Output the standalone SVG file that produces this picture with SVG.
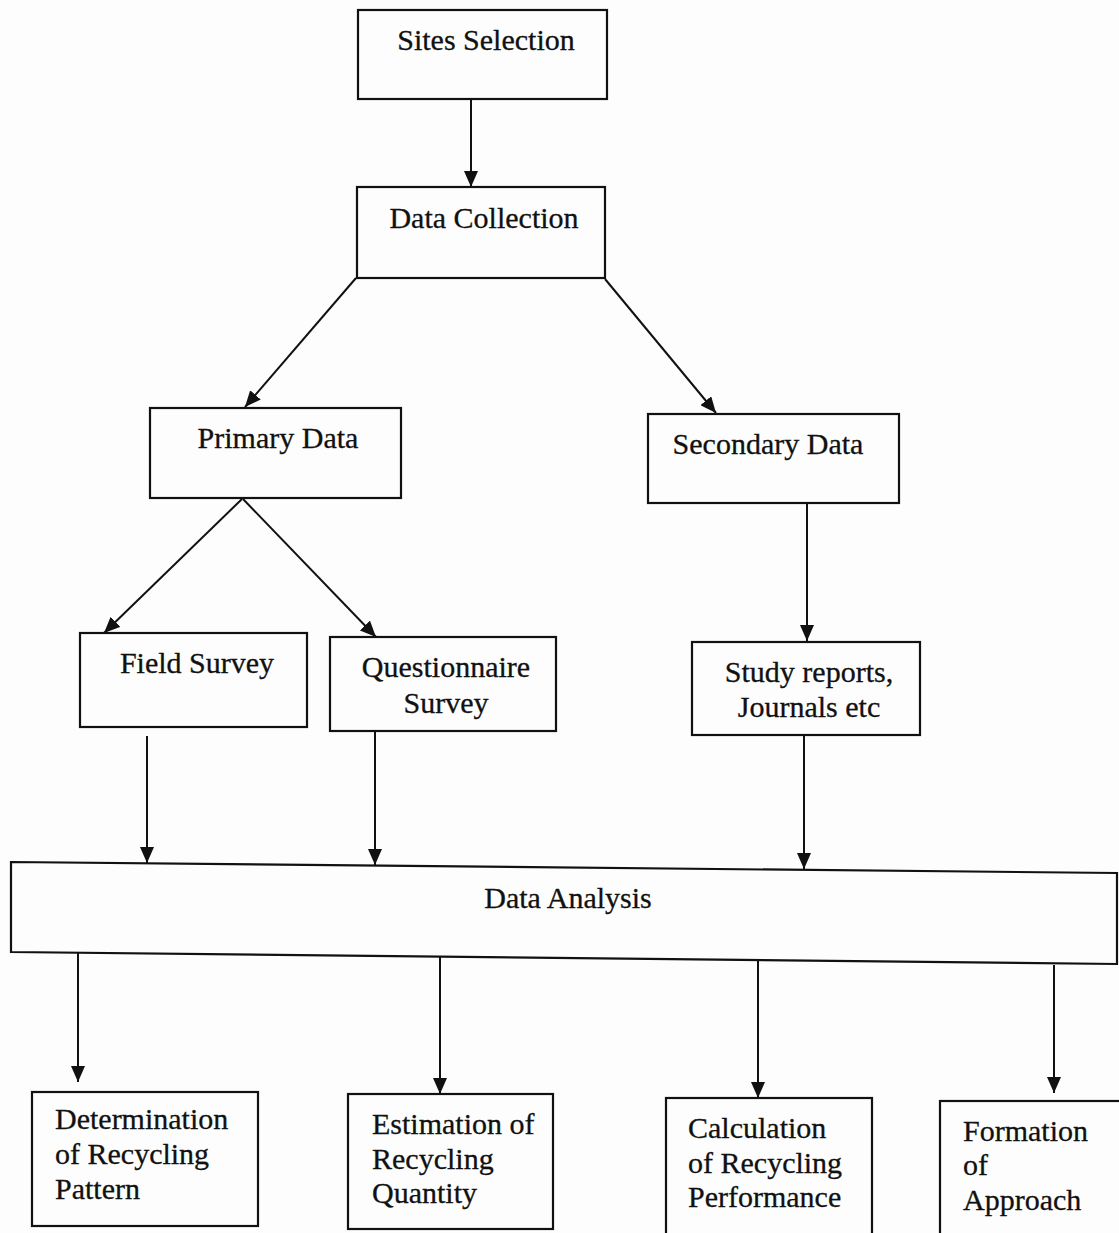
<svg xmlns="http://www.w3.org/2000/svg" width="1119" height="1233" viewBox="0 0 1119 1233">
  <style>
    .box { fill: none; stroke: #111; stroke-width: 2.2; }
    .lbl { font-family: "Liberation Serif", "Times New Roman", serif; font-size: 30px; fill: #111; stroke: #111; stroke-width: 0.3; }
    .c { text-anchor: middle; }
    .edge { stroke: #111; stroke-width: 2; fill: none; marker-end: url(#arrow); }
  </style>
  <defs>
    <marker id="arrow" viewBox="0 0 16 14" refX="16" refY="7" markerWidth="16" markerHeight="14" markerUnits="userSpaceOnUse" orient="auto">
      <path d="M0,0 L16,7 L0,14 Z" fill="#111"/>
    </marker>
  </defs>
  <rect width="1119" height="1233" fill="#fdfdfd"/>

  <g id="connectors">
    <line class="edge" x1="471" y1="99" x2="471" y2="187"/>
    <line class="edge" x1="356" y1="278" x2="245" y2="407"/>
    <line class="edge" x1="605" y1="279" x2="716" y2="413"/>
    <line class="edge" x1="242" y1="499" x2="104" y2="633"/>
    <line class="edge" x1="243" y1="499" x2="376" y2="637"/>
    <line class="edge" x1="807" y1="503" x2="807" y2="641"/>
    <line class="edge" x1="147" y1="736" x2="147" y2="863"/>
    <line class="edge" x1="375" y1="731" x2="375" y2="865"/>
    <line class="edge" x1="804" y1="735" x2="804" y2="869"/>
    <line class="edge" x1="78" y1="953" x2="78" y2="1082"/>
    <line class="edge" x1="440" y1="957" x2="440" y2="1094"/>
    <line class="edge" x1="758" y1="961" x2="758" y2="1098"/>
    <line class="edge" x1="1054" y1="965" x2="1054" y2="1093"/>
  </g>

  <g id="sites-selection">
    <rect class="box" x="358" y="10" width="249" height="89"/>
    <text class="lbl c" x="486" y="50">Sites Selection</text>
  </g>
  <g id="data-collection">
    <rect class="box" x="357" y="187" width="248" height="91"/>
    <text class="lbl c" x="484" y="228">Data Collection</text>
  </g>
  <g id="primary-data">
    <rect class="box" x="150" y="408" width="251" height="90"/>
    <text class="lbl c" x="278" y="448">Primary Data</text>
  </g>
  <g id="secondary-data">
    <rect class="box" x="648" y="414" width="251" height="89"/>
    <text class="lbl c" x="768" y="454">Secondary Data</text>
  </g>
  <g id="field-survey">
    <rect class="box" x="80" y="633" width="227" height="94"/>
    <text class="lbl c" x="197" y="673">Field Survey</text>
  </g>
  <g id="questionnaire-survey">
    <rect class="box" x="330" y="637" width="226" height="94"/>
    <text class="lbl c" x="446" y="677">Questionnaire</text>
    <text class="lbl c" x="446" y="713">Survey</text>
  </g>
  <g id="study-reports">
    <rect class="box" x="692" y="642" width="228" height="93"/>
    <text class="lbl c" x="809" y="682">Study reports,</text>
    <text class="lbl c" x="809" y="717">Journals etc</text>
  </g>
  <g id="data-analysis">
    <polygon class="box" points="11,862 1117,873 1117,964 11,952"/>
    <text class="lbl c" x="568" y="908">Data Analysis</text>
  </g>
  <g id="recycling-pattern">
    <rect class="box" x="32" y="1092" width="226" height="134"/>
    <text class="lbl" x="55" y="1129">Determination</text>
    <text class="lbl" x="55" y="1164">of Recycling</text>
    <text class="lbl" x="55" y="1199">Pattern</text>
  </g>
  <g id="recycling-quantity">
    <rect class="box" x="348" y="1094" width="205" height="135"/>
    <text class="lbl" x="372" y="1134">Estimation of</text>
    <text class="lbl" x="372" y="1169">Recycling</text>
    <text class="lbl" x="372" y="1203">Quantity</text>
  </g>
  <g id="recycling-performance">
    <rect class="box" x="666" y="1098" width="206" height="140"/>
    <text class="lbl" x="688" y="1138">Calculation</text>
    <text class="lbl" x="688" y="1173">of Recycling</text>
    <text class="lbl" x="688" y="1207">Performance</text>
  </g>
  <g id="formation-approach">
    <rect class="box" x="940" y="1101" width="184" height="140"/>
    <text class="lbl" x="963" y="1141">Formation</text>
    <text class="lbl" x="963" y="1175">of</text>
    <text class="lbl" x="963" y="1210">Approach</text>
  </g>
</svg>
